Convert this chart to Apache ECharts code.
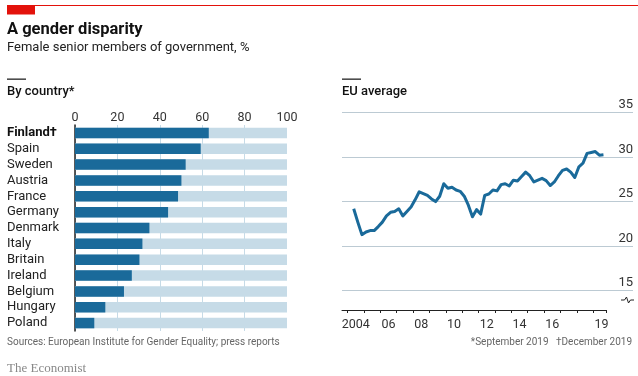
<!DOCTYPE html>
<html>
<head>
<meta charset="utf-8">
<script src="https://cdn.jsdelivr.net/npm/echarts@6/dist/echarts.min.js"></script>
<style>
  html, body {margin: 0; padding: 0; background: #fff;}
  #chart {width: 638px; height: 376px;}
</style>
</head>
<body>
<div id="chart"></div>
<script>
// share of female senior members of government, %
const countries = ['Finland†', 'Spain', 'Sweden', 'Austria', 'France', 'Germany', 'Denmark',
  'Italy', 'Britain', 'Ireland', 'Belgium', 'Hungary', 'Poland'];
const countryShare = [63.1, 59.3, 52.2, 50.2, 48.6, 43.9, 35.1, 31.8, 30.4, 26.8, 23.1, 14.3, 9.1];

// EU average, quarterly from 2004 Q2 to 2019 Q3
const euFirstQuarter = 2004.375;
const euAverage = [
  24.2, 22.7, 21.3, 21.6, 21.75, 21.75, 22.2, 22.7, 23.4, 23.8, 23.9, 24.2, 23.4, 23.9, 24.4, 25.2,
  26.1, 25.9, 25.7, 25.3, 25.0, 25.6, 27.0, 26.5, 26.6, 26.3, 26.15, 25.6, 24.6, 23.3, 24.1, 23.6,
  25.7, 25.85, 26.3, 26.2, 26.9, 27.0, 26.75, 27.4, 27.3, 27.8, 28.3, 27.9, 27.2, 27.4, 27.6, 27.35,
  26.8, 27.2, 27.9, 28.5, 28.65, 28.3, 27.7, 28.9, 29.3, 30.4, 30.5, 30.6, 30.2, 30.25
];
const yearTicks = [2004, 2005, 2006, 2007, 2008, 2009, 2010, 2011, 2012, 2013, 2014, 2015, 2016, 2017, 2018, 2019];
const yearLabels = {2004.5: '2004', 2006.5: '06', 2008.5: '08', 2010.5: '10', 2012.5: '12', 2014.5: '14', 2016.5: '16', 2019.5: '19'};

const font = 'Roboto, sans-serif';
const dark = '#1a6a9a';
const pale = '#c6dbe7';
const ink = '#222';

const chart = echarts.init(document.getElementById('chart'));
chart.setOption({
  animation: false,
  textStyle: {fontFamily: font},
  grid: [
    {left: 75, width: 212, top: 125, bottom: 45},
    {left: 342, right: 5, top: 112.3, bottom: 85.3},
    {left: 342, right: 32, top: 112.3, bottom: 66}
  ],
  xAxis: [
    {
      gridIndex: 0, type: 'value', position: 'top', min: 0, max: 100, interval: 20,
      axisLine: {show: false}, axisTick: {show: false},
      axisLabel: {color: '#333', fontSize: 12.5, margin: 1, fontFamily: font},
      splitLine: {show: true, showMaxLine: false, lineStyle: {color: pale, width: 1}}
    },
    {gridIndex: 1, type: 'value', min: 0, max: 1, show: false},
    {
      gridIndex: 2, type: 'value', min: 2003.66, max: 2019.78,
      axisLine: {lineStyle: {color: ink, width: 1}},
      axisTick: {show: true, length: 3, customValues: yearTicks.concat([2019.78]), lineStyle: {color: ink}},
      axisLabel: {
        customValues: Object.keys(yearLabels).map(Number),
        formatter: v => yearLabels[v] || '',
        color: '#333', fontSize: 12.5, margin: 8, fontFamily: font
      },
      splitLine: {show: false}
    }
  ],
  yAxis: [
    {
      gridIndex: 0, type: 'category', inverse: true, data: countries,
      axisLine: {show: true, lineStyle: {color: ink, width: 1.5}},
      axisTick: {show: false},
      axisLabel: {
        interval: 0, align: 'left', margin: 68, color: ink, fontSize: 13, fontFamily: font,
        formatter: v => v === 'Finland†' ? '{b|' + v + '}' : v,
        rich: {b: {fontWeight: 'bold', fontSize: 13, color: '#111', fontFamily: font}}
      }
    },
    {
      gridIndex: 1, type: 'value', position: 'right', min: 15, max: 35, interval: 5,
      axisLine: {show: false}, axisTick: {show: false},
      axisLabel: {inside: true, margin: 0, verticalAlign: 'bottom', color: '#333', fontSize: 13, fontFamily: font, padding: [0, 0, 1, 0]},
      splitLine: {lineStyle: {color: '#bccad3', width: 1}}
    },
    {gridIndex: 2, type: 'value', min: 12.86, max: 35, show: false}
  ],
  series: [
    {
      type: 'bar', xAxisIndex: 0, yAxisIndex: 0, data: countryShare,
      barWidth: 10.5, itemStyle: {color: dark},
      showBackground: true, backgroundStyle: {color: pale},
      silent: true
    },
    {
      type: 'line', xAxisIndex: 2, yAxisIndex: 2,
      data: euAverage.map((v, i) => [euFirstQuarter + i * 0.25, v]),
      symbol: 'none', lineStyle: {color: dark, width: 3, join: 'round'},
      silent: true
    }
  ],
  graphic: [
    {type: 'rect', shape: {x: 7, y: 5, width: 631, height: 1}, style: {fill: '#e3120b'}},
    {type: 'rect', shape: {x: 7, y: 5, width: 28, height: 9.5}, style: {fill: '#e3120b'}},
    {type: 'text', left: 7, top: 21, style: {text: 'A gender disparity', font: 'bold 16.5px ' + font, fill: '#111'}},
    {type: 'text', left: 7, top: 41, style: {text: 'Female senior members of government, %', font: '13px ' + font, fill: ink}},
    {type: 'rect', shape: {x: 7, y: 78.5, width: 19, height: 1.3}, style: {fill: ink}},
    {type: 'text', left: 7, top: 85, style: {text: 'By country*', font: '500 13px ' + font, fill: '#111'}},
    {type: 'rect', shape: {x: 342, y: 78.5, width: 19, height: 1.3}, style: {fill: ink}},
    {type: 'text', left: 342, top: 85, style: {text: 'EU average', font: '500 13px ' + font, fill: '#111'}},
    {type: 'polyline', shape: {points: [[621, 300], [624.5, 300], [626.5, 297], [628.5, 303], [630.5, 300], [634, 300]]},
      style: {stroke: ink, lineWidth: 1, fill: null}},
    {type: 'text', left: 7, top: 337, style: {text: 'Sources: European Institute for Gender Equality; press reports', font: '10px ' + font, fill: '#666'}},
    {type: 'text', right: 6, top: 337, style: {text: '*September 2019   †December 2019', font: '10px ' + font, fill: '#666'}},
    {type: 'text', left: 7, top: 362, style: {text: 'The Economist', font: '13px "Liberation Serif", "DejaVu Serif", serif', fill: '#888'}}
  ]
});
</script>
</body>
</html>
